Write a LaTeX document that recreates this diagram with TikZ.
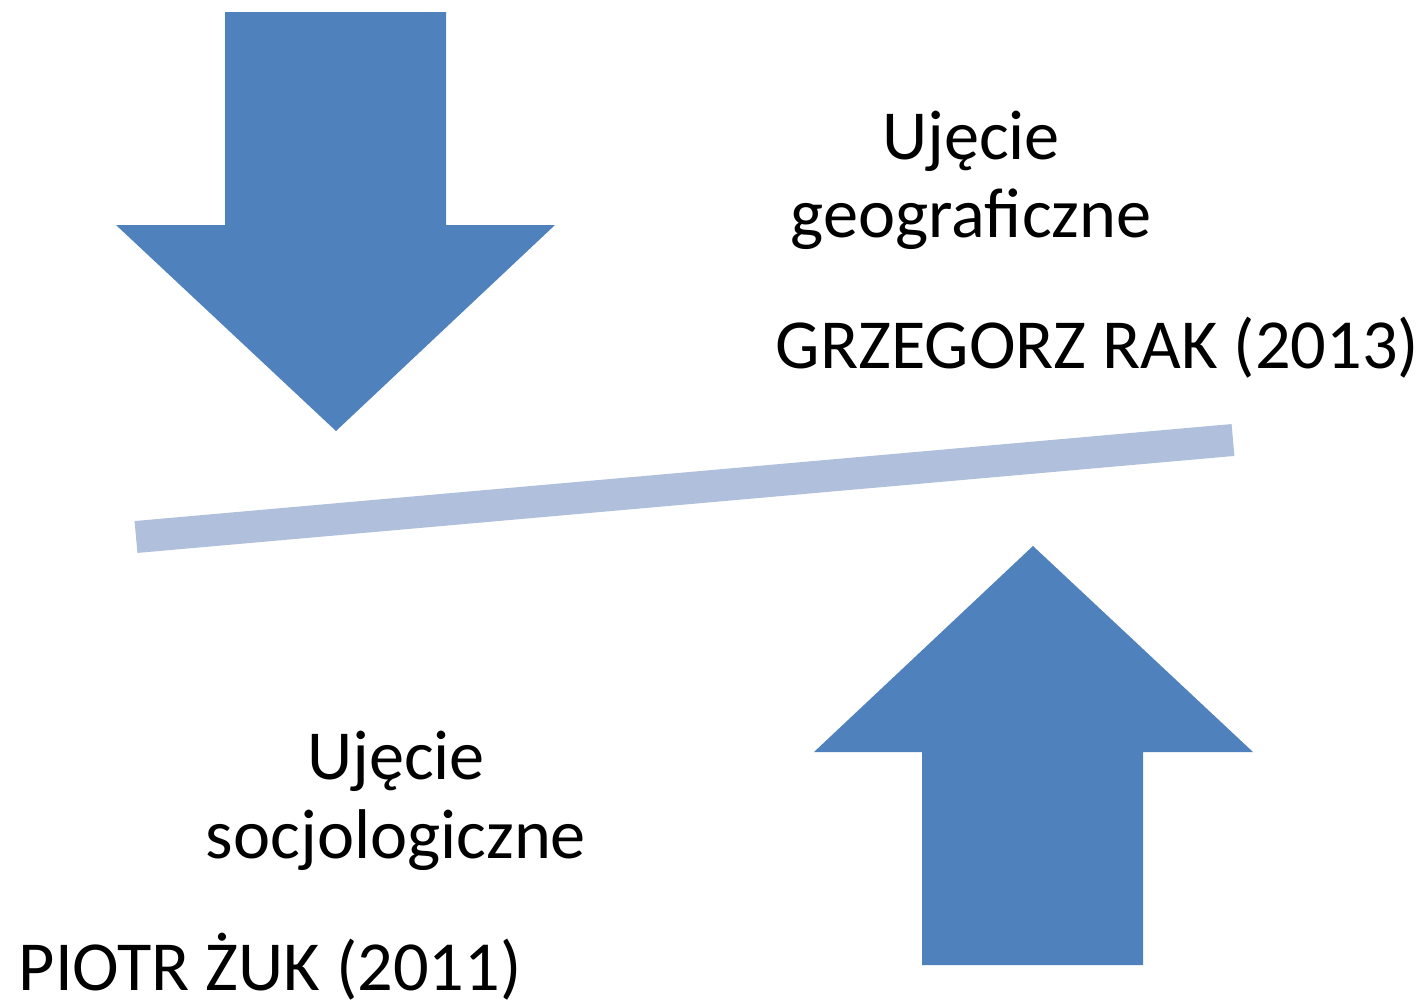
\documentclass[tikz,border=0pt]{standalone}
\usepackage{fontspec}
\setmainfont{Carlito}
\definecolor{arrowblue}{RGB}{79,129,189}
\definecolor{barblue}{RGB}{176,192,220}
\begin{document}
\begin{tikzpicture}[x=0.01cm, y=-0.01cm, every node/.style={inner sep=0pt, font=\fontsize{20}{22.2}\selectfont}, blockarrow/.style={fill=arrowblue}]
  \useasboundingbox (0,0) rectangle (1423,1003);
    % down arrow
    \fill [blockarrow] (225,12) -- (446,12) -- (446,225) -- (555,225) -- (336,431) -- (116,225) -- (225,225) -- cycle;
    % up arrow
    \fill [blockarrow] (922,965) -- (1143,965) -- (1143,752) -- (1253,752) -- (1033,546) -- (814,752) -- (922,752) -- cycle;
    % bar
    \draw [barblue, line width=0.32cm] (136,537) -- (1233,440);
    % labels
    \node [anchor=base, align=center] (geo) at (971,238) {Ujęcie\\geograficzne};
    \node [anchor=base west] (rak) at (775,368) {GRZEGORZ RAK (2013)};
    \node [anchor=base, align=center] (soc) at (396,858) {Ujęcie\\socjologiczne};
    \node [anchor=base west] (zuk) at (18,990) {PIOTR ŻUK (2011)};
\end{tikzpicture}
\end{document}
